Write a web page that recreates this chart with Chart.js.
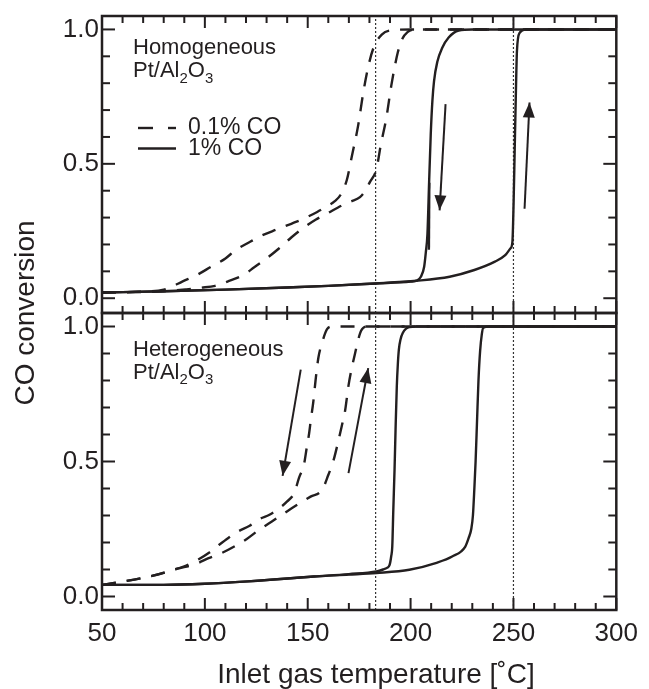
<!DOCTYPE html>
<html>
<head>
<meta charset="utf-8">
<script src="https://cdn.jsdelivr.net/npm/chart.js@4.4.1/dist/chart.umd.min.js"></script>
<style>
  html, body { margin: 0; padding: 0; background: #fff; }
  #wrap { width: 649px; height: 689px; }
</style>
</head>
<body>
<div id="wrap"><canvas id="chart" width="649" height="689"></canvas></div>
<script>
const INK = '#231f20';
const FONT = "'Liberation Sans', Arial, Helvetica, sans-serif";

// axis ticks
const xTicks = [50, 100, 150, 200, 250, 300];
const xMinorTicks = [60, 70, 80, 90, 110, 120, 130, 140, 160, 170, 180, 190, 210, 220, 230, 240, 260, 270, 280, 290];
const yTicks = [0, 0.5, 1.0];
const yMinorTicks = [0.1, 0.2, 0.3, 0.4, 0.6, 0.7, 0.8, 0.9];
const refTemps = [183, 250];

// Homogeneous Pt/Al2O3, 0.1% CO
const homo01CoolT = [50, 70, 80, 84, 89, 96, 103, 110, 115, 122, 127, 135, 142, 148, 154.6, 160, 163, 166, 169, 171.5, 174.5, 177, 179.5, 182, 186, 191, 200, 300];
const homo01CoolY = [0.021, 0.025, 0.032, 0.043, 0.062, 0.086, 0.117, 0.148, 0.179, 0.21, 0.231, 0.256, 0.277, 0.296, 0.321, 0.345, 0.36, 0.385, 0.44, 0.53, 0.642, 0.765, 0.864, 0.932, 0.981, 0.997, 1.0, 1.0];
const homo01HeatT = [50, 80, 91, 98, 105, 111, 118.6, 124, 130, 136, 142, 147.4, 154, 159.4, 166.6, 171, 175.4, 178, 180.2, 183.4, 185.5, 188.2, 190.6, 193.8, 196, 198.5, 202, 300];
const homo01HeatY = [0.021, 0.026, 0.033, 0.039, 0.046, 0.062, 0.086, 0.115, 0.148, 0.185, 0.226, 0.259, 0.293, 0.315, 0.345, 0.36, 0.376, 0.40, 0.432, 0.48, 0.57, 0.67, 0.79, 0.915, 0.965, 0.99, 1.0, 1.0];
// Homogeneous Pt/Al2O3, 1% CO
const homo1HeatT = [50, 80, 110, 140, 160, 183, 203, 219, 231, 241, 246, 248.5, 249.5, 250.1, 250.6, 251.1, 251.7, 253, 256, 300];
const homo1HeatY = [0.021, 0.026, 0.032, 0.04, 0.046, 0.055, 0.065, 0.08, 0.105, 0.136, 0.16, 0.185, 0.21, 0.364, 0.55, 0.734, 0.92, 0.987, 1.0, 1.0];
const homo1CoolT = [50, 80, 110, 140, 160, 183, 200, 203, 205, 206.6, 207.4, 208.2, 209, 209.8, 210.6, 211.4, 213, 215.4, 218.5, 223.4, 230, 300];
const homo1CoolY = [0.021, 0.026, 0.032, 0.04, 0.046, 0.055, 0.062, 0.066, 0.08, 0.117, 0.17, 0.24, 0.43, 0.61, 0.734, 0.808, 0.88, 0.932, 0.97, 0.996, 1.0, 1.0];
const homo1RepT = [208.9, 209.1];
const homo1RepY = [0.18, 0.43];

// Heterogeneous Pt/Al2O3, 0.1% CO
const hetero01CoolT = [50, 60, 73, 82, 90, 97, 102, 106, 111.4, 116.2, 121.8, 126.6, 131.4, 136.2, 140, 143.4, 145.8, 148.2, 149.5, 150.6, 151.6, 152.7, 153.8, 155.2, 157, 159.4, 162, 300];
const hetero01CoolY = [0.043, 0.055, 0.074, 0.092, 0.112, 0.138, 0.162, 0.186, 0.217, 0.241, 0.262, 0.287, 0.303, 0.327, 0.352, 0.383, 0.44, 0.49, 0.55, 0.60, 0.66, 0.72, 0.80, 0.885, 0.94, 0.99, 1.0, 1.0];
const hetero01HeatT = [50, 73, 86.6, 95.4, 101.8, 108.2, 114.3, 120.2, 125.8, 133.8, 139.9, 145, 151.4, 157, 160, 162.6, 165, 166.5, 168.2, 169.8, 171.4, 173, 174.5, 176, 178.6, 300];
const hetero01HeatY = [0.043, 0.074, 0.103, 0.12, 0.142, 0.161, 0.185, 0.212, 0.244, 0.284, 0.315, 0.34, 0.37, 0.395, 0.45, 0.506, 0.58, 0.63, 0.69, 0.78, 0.846, 0.90, 0.95, 0.985, 1.0, 1.0];
// Heterogeneous Pt/Al2O3, 1% CO
const hetero1CoolT = [50, 80, 100, 121, 153, 170, 183.4, 186.6, 188.5, 189.8, 190.6, 191.1, 191.6, 192.2, 192.7, 193.3, 193.8, 194.3, 195.2, 196.2, 197.8, 199.4, 203, 300];
const hetero1CoolY = [0.043, 0.043, 0.047, 0.056, 0.074, 0.083, 0.093, 0.1, 0.106, 0.117, 0.15, 0.185, 0.32, 0.469, 0.62, 0.778, 0.86, 0.914, 0.955, 0.976, 0.992, 0.998, 1.0, 1.0];
const hetero1HeatT = [50, 80, 100, 121, 153, 170, 183.4, 199.4, 212.2, 220.2, 226.6, 228.2, 229.5, 230.3, 231, 231.6, 232.3, 233, 233.8, 234.6, 235.3, 238, 300];
const hetero1HeatY = [0.043, 0.043, 0.047, 0.056, 0.074, 0.081, 0.087, 0.099, 0.124, 0.148, 0.185, 0.216, 0.25, 0.30, 0.40, 0.50, 0.65, 0.80, 0.91, 0.97, 0.995, 1.0, 1.0];

// arrows: [tail, tip]
const arrowHomoDownT = [217.0, 214.1];
const arrowHomoDownY = [0.722, 0.327];
const arrowHomoUpT = [255.4, 257.8];
const arrowHomoUpY = [0.333, 0.728];
const arrowHeteroDownT = [146.6, 137.8];
const arrowHeteroDownY = [0.84, 0.447];
const arrowHeteroUpT = [169.8, 179.4];
const arrowHeteroUpY = [0.457, 0.846];

const TOP_MIN = -0.055, TOP_MAX = 1.05;
const BOT_MIN = -0.05, BOT_MAX = 1.05;

const pts = (xs, ys) => xs.map((x, i) => ({ x: x, y: ys[i] }));

const curve = (xs, ys, axis, dashed) => ({
  data: pts(xs, ys),
  yAxisID: axis,
  showLine: true,
  pointRadius: 0,
  borderColor: INK,
  borderWidth: 2.4,
  borderDash: dashed ? [14, 11] : [],
  cubicInterpolationMode: 'monotone',
  fill: false
});

const refLine = (t, axis, lo, hi) => ({
  data: [{ x: t, y: lo }, { x: t, y: hi }],
  yAxisID: axis,
  showLine: true,
  pointRadius: 0,
  borderColor: '#333',
  borderWidth: 1.2,
  borderDash: [2, 2]
});

const arrow = (xs, ys, axis) => ({
  data: pts(xs, ys),
  yAxisID: axis,
  showLine: true,
  pointRadius: 0,
  borderColor: INK,
  borderWidth: 2,
  arrow: true
});

const datasets = [
  curve(homo01CoolT, homo01CoolY, 'yTop', true),
  curve(homo01HeatT, homo01HeatY, 'yTop', true),
  curve(homo1HeatT, homo1HeatY, 'yTop', false),
  curve(homo1CoolT, homo1CoolY, 'yTop', false),
  curve(homo1RepT, homo1RepY, 'yTop', false),
  curve(hetero01CoolT, hetero01CoolY, 'yBot', true),
  curve(hetero01HeatT, hetero01HeatY, 'yBot', true),
  curve(hetero1CoolT, hetero1CoolY, 'yBot', false),
  curve(hetero1HeatT, hetero1HeatY, 'yBot', false),
  arrow(arrowHomoDownT, arrowHomoDownY, 'yTop'),
  arrow(arrowHomoUpT, arrowHomoUpY, 'yTop'),
  arrow(arrowHeteroDownT, arrowHeteroDownY, 'yBot'),
  arrow(arrowHeteroUpT, arrowHeteroUpY, 'yBot')
];
refTemps.forEach(t => {
  datasets.push(refLine(t, 'yTop', TOP_MIN, TOP_MAX));
  datasets.push(refLine(t, 'yBot', BOT_MIN, BOT_MAX));
});

const tickFont = { family: FONT, size: 26, lineHeight: 1 };
const titleFont = { family: FONT, size: 28, lineHeight: 1 };

const panelY = (min, max) => ({
  type: 'linear',
  position: 'left',
  stack: 'panels',
  stackWeight: 1,
  min: min,
  max: max,
  afterBuildTicks: s => { s.ticks = yTicks.map(v => ({ value: v })); },
  afterFit: s => { s.width = 57; },
  ticks: { font: tickFont, color: INK, padding: 3, autoSkip: false, callback: v => Number(v).toFixed(1) },
  grid: { display: false, drawTicks: false },
  border: { display: false }
});

// draws a line of text with subscripts: parts = [[text, isSub], ...]
function chemText(ctx, x, y, parts, size) {
  parts.forEach(([txt, sub]) => {
    ctx.font = (sub ? size * 0.68 : size) + 'px ' + FONT;
    ctx.fillText(txt, x, sub ? y + size * 0.26 : y);
    x += ctx.measureText(txt).width;
  });
}

const decor = {
  id: 'decor',
  afterDatasetsDraw(chart) {
    const { ctx, chartArea, scales } = chart;
    const xs = scales.x;
    const l = chartArea.left, r = chartArea.right;
    ctx.save();
    ctx.strokeStyle = INK;
    ctx.fillStyle = INK;
    ctx.setLineDash([]);
    const seg = (x1, y1, x2, y2) => { ctx.beginPath(); ctx.moveTo(x1, y1); ctx.lineTo(x2, y2); ctx.stroke(); };

    // arrowheads
    chart.data.datasets.forEach((ds, i) => {
      if (!ds.arrow) return;
      const p = chart.getDatasetMeta(i).data;
      const a = p[0], b = p[p.length - 1];
      const ang = Math.atan2(b.y - a.y, b.x - a.x);
      const len = 15, half = 6;
      ctx.beginPath();
      ctx.moveTo(b.x, b.y);
      ctx.lineTo(b.x - len * Math.cos(ang) + half * Math.sin(ang), b.y - len * Math.sin(ang) - half * Math.cos(ang));
      ctx.lineTo(b.x - len * Math.cos(ang) - half * Math.sin(ang), b.y - len * Math.sin(ang) + half * Math.cos(ang));
      ctx.closePath();
      ctx.fill();
    });

    // frames and inward ticks
    [scales.yTop, scales.yBot].forEach(ys => {
      const top = ys.top, bot = ys.bottom;
      ctx.lineWidth = 2;
      xMinorTicks.forEach(v => { const p = xs.getPixelForValue(v); seg(p, top, p, top + 7); seg(p, bot, p, bot - 7); });
      xTicks.forEach(v => { const p = xs.getPixelForValue(v); seg(p, top, p, top + 12); seg(p, bot, p, bot - 12); });
      yMinorTicks.forEach(v => { const p = ys.getPixelForValue(v); seg(l, p, l + 8, p); seg(r, p, r - 8, p); });
      yTicks.forEach(v => { const p = ys.getPixelForValue(v); seg(l, p, l + 13, p); seg(r, p, r - 13, p); });
      ctx.lineWidth = 2.5;
      ctx.strokeRect(l, top, r - l, bot - top);
    });

    // panel labels
    const tTop = scales.yTop.top, bTop = scales.yBot.top;
    ctx.textAlign = 'left';
    ctx.textBaseline = 'alphabetic';
    ctx.font = '22px ' + FONT;
    ctx.fillText('Homogeneous', l + 31, tTop + 38);
    chemText(ctx, l + 31, tTop + 61, [['Pt/Al', false], ['2', true], ['O', false], ['3', true]], 22);
    ctx.font = '22px ' + FONT;
    ctx.fillText('Heterogeneous', l + 31, bTop + 42.5);
    chemText(ctx, l + 31, bTop + 65.5, [['Pt/Al', false], ['2', true], ['O', false], ['3', true]], 22);

    // legend
    const legend = [['0.1% CO', [15, 15], 112], ['1% CO', [], 132.5]];
    ctx.lineWidth = 2.4;
    ctx.font = '23px ' + FONT;
    ctx.textBaseline = 'middle';
    legend.forEach(([label, dash, dy]) => {
      ctx.setLineDash(dash);
      seg(l + 36, tTop + dy, l + 74, tTop + dy);
      ctx.setLineDash([]);
      ctx.fillText(label, l + 86, tTop + dy);
    });
    ctx.restore();
  }
};

new Chart(document.getElementById('chart'), {
  type: 'scatter',
  data: { datasets: datasets },
  options: {
    responsive: false,
    animation: false,
    events: [],
    layout: { padding: { top: 15, right: 26, bottom: 0, left: 0 } },
    plugins: { legend: { display: false }, tooltip: { enabled: false } },
    scales: {
      x: {
        type: 'linear',
        position: 'bottom',
        min: 50,
        max: 300,
        afterBuildTicks: s => { s.ticks = xTicks.map(v => ({ value: v })); },
        afterFit: s => { s.height = 79; },
        ticks: { font: tickFont, color: INK, padding: 11, maxRotation: 0, autoSkip: false, callback: v => String(v) },
        grid: { display: false, drawTicks: false },
        border: { display: false },
        title: { display: true, text: '\u2003\u2009Inlet gas temperature [˚C]', font: titleFont, color: INK, padding: { top: 0, bottom: 0 } }
      },
      yBot: panelY(BOT_MIN, BOT_MAX),
      yTop: panelY(TOP_MIN, TOP_MAX),
      yTitle: {
        type: 'linear',
        position: 'left',
        min: 0,
        max: 1,
        afterFit: s => { s.width = 45; },
        ticks: { display: false },
        grid: { display: false, drawTicks: false },
        border: { display: false },
        title: { display: true, text: 'CO conversion', font: titleFont, color: INK, padding: { top: 12, bottom: 0 } }
      }
    }
  },
  plugins: [decor]
});
</script>
</body>
</html>
